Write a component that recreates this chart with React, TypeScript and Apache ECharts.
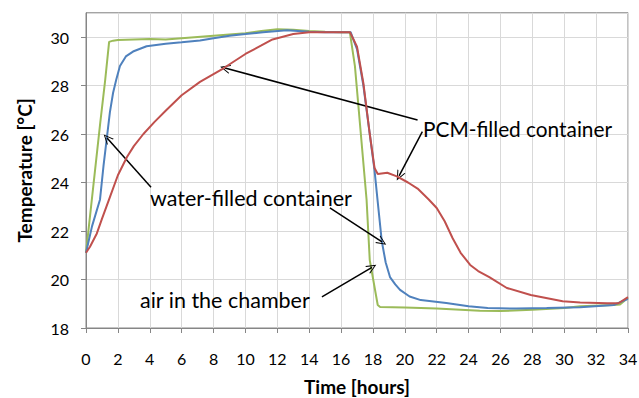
import React, { useEffect, useRef } from "react";
import * as echarts from "echarts";

const airData: [number, number][] = [
  [0, 21.1], [0.2, 22.3], [0.45, 23.8], [0.9, 26.5], [1.2, 28.2], [1.45, 29.8],
  [1.7, 29.85], [2, 29.88], [3, 29.9], [4, 29.92], [5, 29.9], [6, 29.95], [7, 30.0],
  [8, 30.05], [9, 30.1], [10, 30.15], [11, 30.25], [12, 30.32], [13, 30.3], [14, 30.25],
  [15, 30.22], [16, 30.2], [16.55, 30.2], [16.87, 28.8], [17.6, 23.3], [17.8, 20.8],
  [18.3, 18.95], [18.45, 18.87], [20, 18.85], [22, 18.8], [24.7, 18.71], [26, 18.7],
  [28, 18.75], [30, 18.82], [31, 18.9], [33.1, 18.95], [33.5, 18.97], [34, 19.25],
];

const waterData: [number, number][] = [
  [0, 21.1], [0.38, 22.2], [0.88, 23.3], [1.1, 24.7], [1.3, 25.8], [1.5, 26.9],
  [1.7, 27.7], [1.9, 28.25], [2.13, 28.8], [2.5, 29.2], [2.95, 29.4], [3.8, 29.62],
  [5, 29.72], [6, 29.78], [7.15, 29.86], [8, 29.95], [9, 30.05], [10, 30.12],
  [11.1, 30.2], [12.6, 30.28], [14, 30.22], [15, 30.2], [16.6, 30.2], [17.0, 29.5],
  [17.4, 28.0], [17.8, 26.0], [18.1, 24.5], [18.3, 23.2], [18.55, 21.6], [18.8, 20.7],
  [19.07, 20.1], [19.4, 19.8], [19.7, 19.57], [20.3, 19.3], [21, 19.15], [22.6, 19.03],
  [24, 18.9], [25.2, 18.82], [27, 18.8], [28.9, 18.82], [31, 18.86], [33.1, 18.95],
  [34, 19.2],
];

const pcmData: [number, number][] = [
  [0, 21.1], [0.25, 21.35], [0.68, 21.9], [1.0, 22.5], [1.5, 23.4], [2.0, 24.3],
  [2.57, 25.05], [3.0, 25.5], [3.6, 26.0], [4.3, 26.5], [5.06, 27.0], [6.0, 27.6],
  [7.15, 28.15], [8.6, 28.7], [10, 29.3], [11, 29.65], [11.7, 29.9], [13, 30.12],
  [14, 30.2], [15, 30.2], [16.56, 30.2], [17.0, 29.6], [17.4, 28.1], [17.8, 26.0],
  [18.1, 24.6], [18.3, 24.35], [18.9, 24.4], [19.5, 24.25], [20.2, 24.0], [20.8, 23.75],
  [21.5, 23.3], [22.0, 22.95], [22.5, 22.4], [23.0, 21.7], [23.5, 21.1], [24.1, 20.6],
  [24.6, 20.35], [25.3, 20.1], [26.4, 19.65], [27.9, 19.36], [29.9, 19.1], [31, 19.05],
  [32.7, 19.02], [33.4, 19.02], [34, 19.27],
];

// annotation arrows: [fromX, fromY, toX, toY] in data units
const arrows: [number, number, number, number][] = [
  [20.8, 26.58, 8.72, 28.72],
  [21.1, 26.1, 19.64, 24.27],
  [4.08, 23.8, 1.32, 25.83],
  [15.3, 22.95, 18.57, 21.55],
  [14.8, 19.28, 17.94, 20.5],
];

const labels = ["PCM-filled container", "water-filled container", "air in the chamber"];

const FONT = "Lato, 'Open Sans', sans-serif";

export default function App() {
  const ref = useRef<HTMLDivElement>(null);
  useEffect(() => {
    if (!ref.current) return;
    const chart = echarts.init(ref.current, undefined, { renderer: "svg" });
    const arrowSymbol = "path://M5,0 L10,10 L8.8,10 L5,2.2 L1.2,10 L0,10 Z";
    chart.setOption({
      animation: false,
      backgroundColor: "#ffffff",
      textStyle: { fontFamily: FONT },
      grid: {
        left: 86,
        right: 11,
        top: 12.75,
        bottom: 70,
        show: true,
        borderColor: "#868686",
        borderWidth: 1,
        outerBoundsMode: "none",
        containLabel: false,
      },
      xAxis: {
        type: "value",
        min: 0,
        max: 34,
        interval: 2,
        name: "Time [hours]",
        nameLocation: "middle",
        nameGap: 49,
        nameTextStyle: { fontFamily: FONT, fontWeight: "bold", fontSize: 19, color: "#000" },
        axisLine: { show: true, lineStyle: { color: "#868686" } },
        axisTick: { show: true, length: 5, lineStyle: { color: "#868686" } },
        axisLabel: { fontFamily: FONT, fontSize: 16, color: "#000", margin: 22 },
        splitLine: { show: true, lineStyle: { color: "#d9d9d9" } },
      },
      yAxis: {
        type: "value",
        min: 18,
        max: 31,
        interval: 2,
        name: "Temperature [°C]",
        nameLocation: "middle",
        nameGap: 52,
        nameRotate: 90,
        nameTextStyle: { fontFamily: FONT, fontWeight: "bold", fontSize: 19, color: "#000" },
        axisLine: { show: true, lineStyle: { color: "#868686" } },
        axisTick: { show: true, length: 5, lineStyle: { color: "#868686" } },
        axisLabel: {
          fontFamily: FONT,
          fontSize: 16,
          color: "#000",
          margin: 17,
          showMaxLabel: false,
          formatter: (v: number) => (v % 2 === 0 ? String(v) : ""),
        },
        splitLine: { show: true, lineStyle: { color: "#d9d9d9" } },
      },
      series: [
        {
          type: "line",
          name: "air",
          data: airData,
          showSymbol: false,
          lineStyle: { color: "#9BBB59", width: 2 },
          itemStyle: { color: "#9BBB59" },
          z: 3,
        },
        {
          type: "line",
          name: "water",
          data: waterData,
          showSymbol: false,
          lineStyle: { color: "#4F81BD", width: 2 },
          itemStyle: { color: "#4F81BD" },
          z: 4,
        },
        {
          type: "line",
          name: "pcm",
          data: pcmData,
          showSymbol: false,
          lineStyle: { color: "#C0504D", width: 2 },
          itemStyle: { color: "#C0504D" },
          z: 5,
          markLine: {
            silent: true,
            animation: false,
            symbol: ["none", arrowSymbol],
            symbolSize: [9, 10],
            label: { show: false },
            lineStyle: { color: "#000", width: 1.5, type: "solid" },
            emphasis: { disabled: true },
            data: arrows.map((a) => [
              { coord: [a[0], a[1]] },
              { coord: [a[2], a[3]] },
            ]),
          },
        },
      ],
      graphic: [
        {
          type: "text",
          x: 423,
          y: 128,
          style: { text: labels[0], font: `20.8px ${FONT}`, fill: "#000", textVerticalAlign: "middle" },
          z: 10,
        },
        {
          type: "text",
          x: 150,
          y: 198,
          style: { text: labels[1], font: `21.5px ${FONT}`, fill: "#000", textVerticalAlign: "middle" },
          z: 10,
        },
        {
          type: "text",
          x: 140,
          y: 300,
          style: { text: labels[2], font: `21.5px ${FONT}`, fill: "#000", textVerticalAlign: "middle" },
          z: 10,
        },
      ],
    });
    return () => chart.dispose();
  }, []);
  return <div ref={ref} style={{ width: 639, height: 398, position: "fixed", left: 0, top: 0 }} />;
}
